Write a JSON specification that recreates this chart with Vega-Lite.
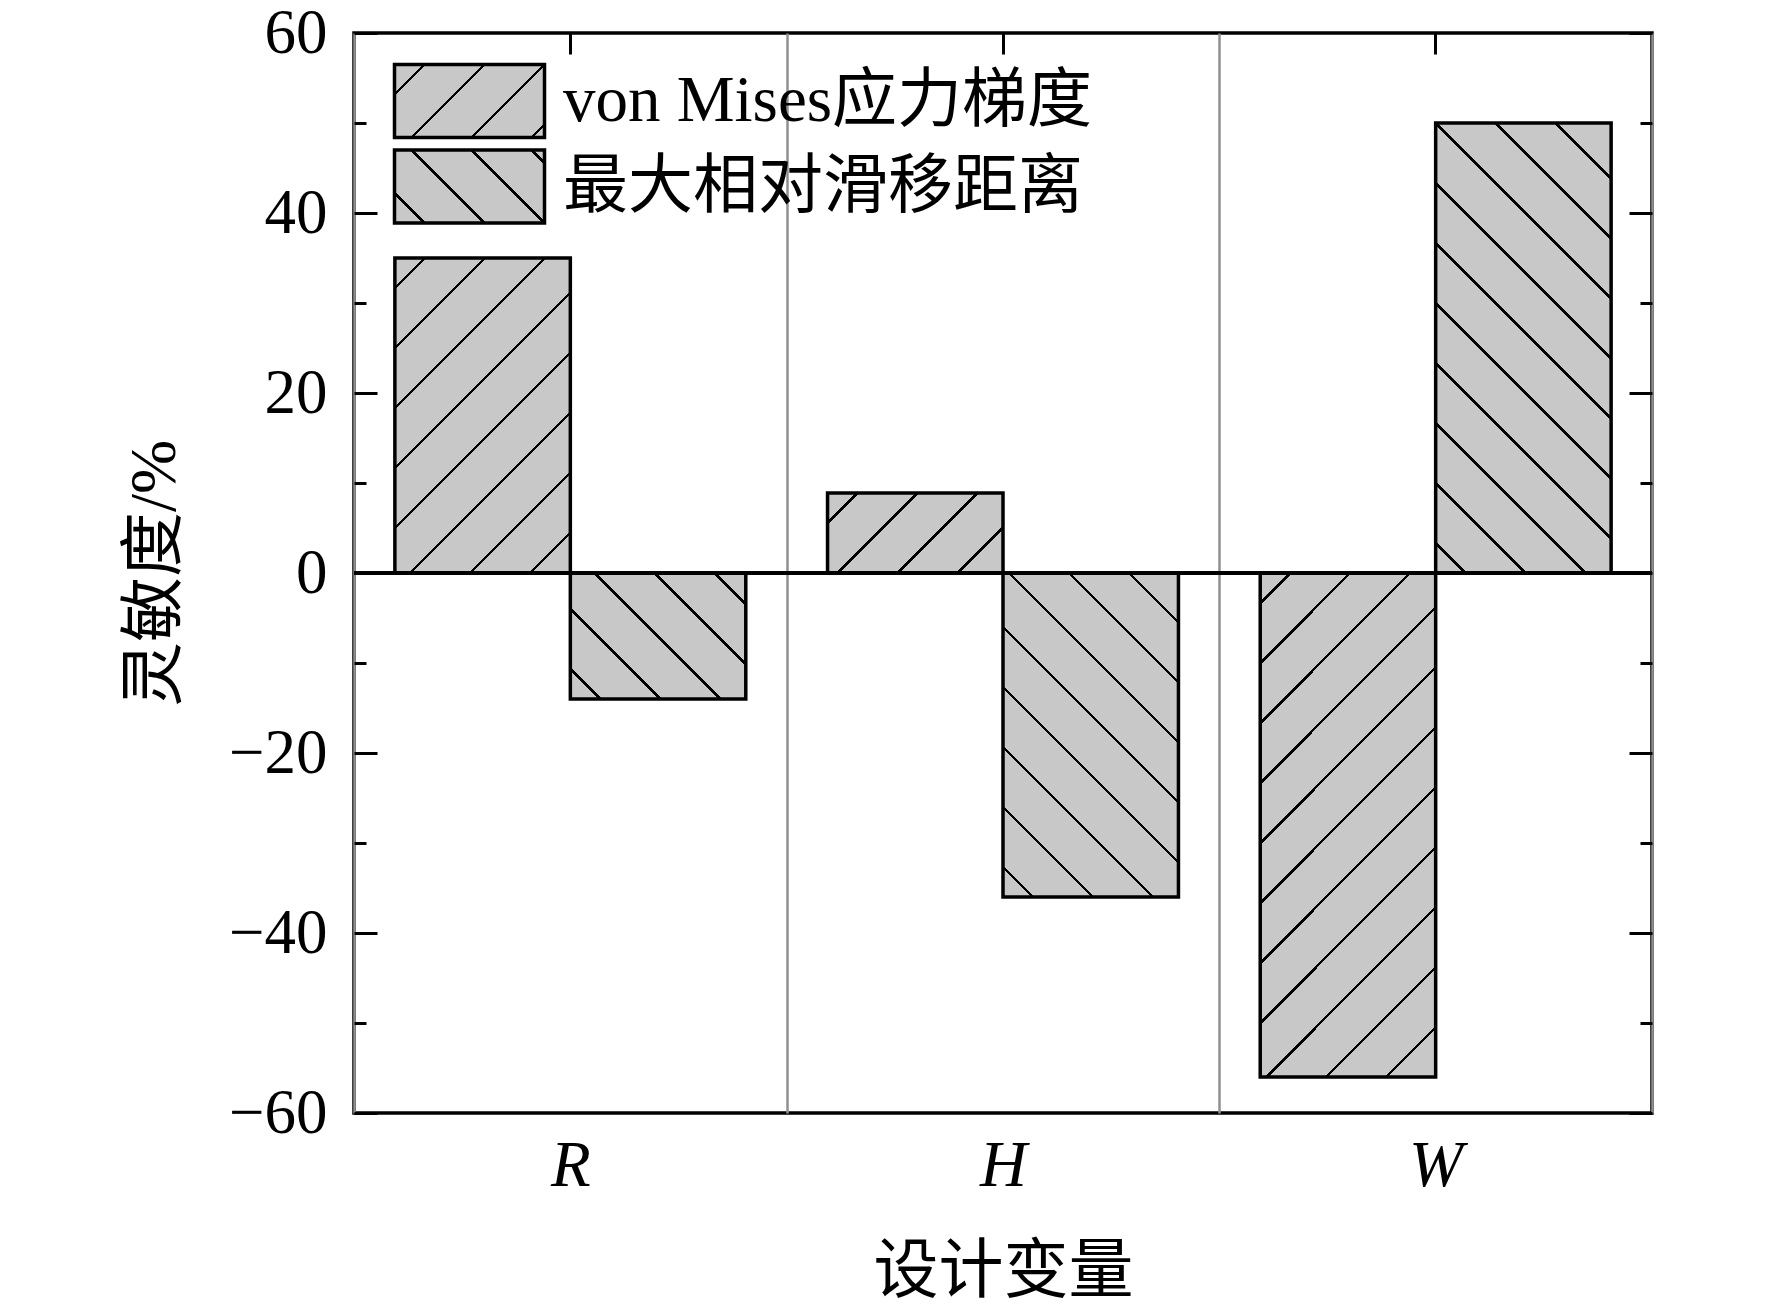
{
"$schema": "https://vega.github.io/schema/vega-lite/v6.json",
"width": 1298,
"height": 1080,
"autosize": {"type": "none"},
"padding": {"left": 354, "top": 33, "right": 120, "bottom": 197},
"background": "white",
"config": {"view": {"stroke": "black", "strokeWidth": 3.5}},
"data": {"values": [
 {"var": "R", "series": "von Mises应力梯度", "value": 35},
 {"var": "R", "series": "最大相对滑移距离", "value": -14},
 {"var": "H", "series": "von Mises应力梯度", "value": 8.9},
 {"var": "H", "series": "最大相对滑移距离", "value": -36},
 {"var": "W", "series": "von Mises应力梯度", "value": -56},
 {"var": "W", "series": "最大相对滑移距离", "value": 50}
]},
"resolve": {"axis": {"x": "independent", "y": "independent"}},
"layer": [
 {
  "mark": {"type": "bar", "stroke": "black", "strokeWidth": 3.5},
  "encoding": {
   "x": {"field": "var", "type": "nominal", "sort": ["R", "H", "W"],
         "scale": {"paddingInner": 0, "paddingOuter": 0},
         "axis": {"orient": "bottom", "title": "设计变量", "labelAngle": 0, "ticks": false, "domain": false,
                  "grid": true, "gridColor": "#909090", "gridWidth": 2.5, "tickBand": "extent",
                  "labelFont": "Liberation Serif", "labelFontStyle": "italic", "labelFontSize": 65, "labelColor": "black", "labelPadding": 21,
                  "titleFont": "Liberation Serif, Noto Sans CJK SC", "titleFontSize": 65, "titleFontWeight": "normal", "titleColor": "black", "titlePadding": 42}},
   "xOffset": {"field": "series", "type": "nominal", "sort": ["von Mises应力梯度", "最大相对滑移距离"],
               "scale": {"paddingInner": 0, "paddingOuter": 0.233}},
   "y": {"field": "value", "type": "quantitative", "scale": {"domain": [-60, 60], "nice": false, "zero": false},
         "axis": {"orient": "left", "title": "灵敏度/%", "values": [-60, -50, -40, -30, -20, -10, 0, 10, 20, 30, 40, 50, 60],
                  "labelExpr": "datum.value % 20 === 0 ? datum.label : ''",
                  "tickSize": {"condition": {"test": "datum.value % 20 === 0", "value": -23}, "value": -12},
                  "tickWidth": 3, "tickColor": "black", "domain": false, "grid": false, "labelFlush": false, "labelOverlap": false,
                  "labelFont": "Liberation Serif", "labelFontSize": 63, "labelColor": "black", "labelPadding": 50,
                  "titleFont": "Liberation Serif, Noto Sans CJK SC", "titleFontSize": 65, "titleFontWeight": "normal", "titleColor": "black", "titlePadding": 40}},
   "fill": {"condition": [
     {"test": "datum.var === 'R' && datum.series === 'von Mises应力梯度'", "value": {"gradient": "linear", "x1": 0, "y1": 0, "x2": 0.94482, "y2": 1.69583, "stops": [{"offset":0.040286,"color":"#c8c8c8"},{"offset":0.040286,"color":"#000"},{"offset":0.045429,"color":"#000"},{"offset":0.045429,"color":"#c8c8c8"},{"offset":0.126,"color":"#c8c8c8"},{"offset":0.126,"color":"#000"},{"offset":0.131143,"color":"#000"},{"offset":0.131143,"color":"#c8c8c8"},{"offset":0.211714,"color":"#c8c8c8"},{"offset":0.211714,"color":"#000"},{"offset":0.216857,"color":"#000"},{"offset":0.216857,"color":"#c8c8c8"},{"offset":0.297429,"color":"#c8c8c8"},{"offset":0.297429,"color":"#000"},{"offset":0.302571,"color":"#000"},{"offset":0.302571,"color":"#c8c8c8"},{"offset":0.383143,"color":"#c8c8c8"},{"offset":0.383143,"color":"#000"},{"offset":0.388286,"color":"#000"},{"offset":0.388286,"color":"#c8c8c8"},{"offset":0.468857,"color":"#c8c8c8"},{"offset":0.468857,"color":"#000"},{"offset":0.474,"color":"#000"},{"offset":0.474,"color":"#c8c8c8"},{"offset":0.554571,"color":"#c8c8c8"},{"offset":0.554571,"color":"#000"},{"offset":0.559714,"color":"#000"},{"offset":0.559714,"color":"#c8c8c8"},{"offset":0.640286,"color":"#c8c8c8"},{"offset":0.640286,"color":"#000"},{"offset":0.645429,"color":"#000"},{"offset":0.645429,"color":"#c8c8c8"},{"offset":0.726,"color":"#c8c8c8"},{"offset":0.726,"color":"#000"},{"offset":0.731143,"color":"#000"},{"offset":0.731143,"color":"#c8c8c8"}]}},
     {"test": "datum.var === 'R'", "value": {"gradient": "linear", "x1": 0, "y1": 1, "x2": 2.63196, "y2": -0.88961, "stops": [{"offset":0.040286,"color":"#c8c8c8"},{"offset":0.040286,"color":"#000"},{"offset":0.045429,"color":"#000"},{"offset":0.045429,"color":"#c8c8c8"},{"offset":0.126,"color":"#c8c8c8"},{"offset":0.126,"color":"#000"},{"offset":0.131143,"color":"#000"},{"offset":0.131143,"color":"#c8c8c8"},{"offset":0.211714,"color":"#c8c8c8"},{"offset":0.211714,"color":"#000"},{"offset":0.216857,"color":"#000"},{"offset":0.216857,"color":"#c8c8c8"},{"offset":0.297429,"color":"#c8c8c8"},{"offset":0.297429,"color":"#000"},{"offset":0.302571,"color":"#000"},{"offset":0.302571,"color":"#c8c8c8"},{"offset":0.383143,"color":"#c8c8c8"},{"offset":0.383143,"color":"#000"},{"offset":0.388286,"color":"#000"},{"offset":0.388286,"color":"#c8c8c8"},{"offset":0.468857,"color":"#c8c8c8"},{"offset":0.468857,"color":"#000"},{"offset":0.474,"color":"#000"},{"offset":0.474,"color":"#c8c8c8"}]}},
     {"test": "datum.var === 'H' && datum.series === 'von Mises应力梯度'", "value": {"gradient": "linear", "x1": 0, "y1": 0, "x2": 3.30098, "y2": 1.5066, "stops": [{"offset":0.040286,"color":"#c8c8c8"},{"offset":0.040286,"color":"#000"},{"offset":0.045429,"color":"#000"},{"offset":0.045429,"color":"#c8c8c8"},{"offset":0.126,"color":"#c8c8c8"},{"offset":0.126,"color":"#000"},{"offset":0.131143,"color":"#000"},{"offset":0.131143,"color":"#c8c8c8"},{"offset":0.211714,"color":"#c8c8c8"},{"offset":0.211714,"color":"#000"},{"offset":0.216857,"color":"#000"},{"offset":0.216857,"color":"#c8c8c8"},{"offset":0.297429,"color":"#c8c8c8"},{"offset":0.297429,"color":"#000"},{"offset":0.302571,"color":"#000"},{"offset":0.302571,"color":"#c8c8c8"},{"offset":0.383143,"color":"#c8c8c8"},{"offset":0.383143,"color":"#000"},{"offset":0.388286,"color":"#000"},{"offset":0.388286,"color":"#c8c8c8"}]}},
     {"test": "datum.var === 'H'", "value": {"gradient": "linear", "x1": 0, "y1": 1, "x2": 0.904803, "y2": -0.670405, "stops": [{"offset":0.040286,"color":"#c8c8c8"},{"offset":0.040286,"color":"#000"},{"offset":0.045429,"color":"#000"},{"offset":0.045429,"color":"#c8c8c8"},{"offset":0.126,"color":"#c8c8c8"},{"offset":0.126,"color":"#000"},{"offset":0.131143,"color":"#000"},{"offset":0.131143,"color":"#c8c8c8"},{"offset":0.211714,"color":"#c8c8c8"},{"offset":0.211714,"color":"#000"},{"offset":0.216857,"color":"#000"},{"offset":0.216857,"color":"#c8c8c8"},{"offset":0.297429,"color":"#c8c8c8"},{"offset":0.297429,"color":"#000"},{"offset":0.302571,"color":"#000"},{"offset":0.302571,"color":"#c8c8c8"},{"offset":0.383143,"color":"#c8c8c8"},{"offset":0.383143,"color":"#000"},{"offset":0.388286,"color":"#000"},{"offset":0.388286,"color":"#c8c8c8"},{"offset":0.468857,"color":"#c8c8c8"},{"offset":0.468857,"color":"#000"},{"offset":0.474,"color":"#000"},{"offset":0.474,"color":"#c8c8c8"},{"offset":0.554571,"color":"#c8c8c8"},{"offset":0.554571,"color":"#000"},{"offset":0.559714,"color":"#000"},{"offset":0.559714,"color":"#c8c8c8"},{"offset":0.640286,"color":"#c8c8c8"},{"offset":0.640286,"color":"#000"},{"offset":0.645429,"color":"#000"},{"offset":0.645429,"color":"#c8c8c8"},{"offset":0.726,"color":"#c8c8c8"},{"offset":0.726,"color":"#000"},{"offset":0.731143,"color":"#000"},{"offset":0.731143,"color":"#c8c8c8"}]}},
     {"test": "datum.var === 'W' && datum.series === 'von Mises应力梯度'", "value": {"gradient": "linear", "x1": 0, "y1": 0, "x2": 0.431332, "y2": 1.238696, "stops": [{"offset":0.040286,"color":"#c8c8c8"},{"offset":0.040286,"color":"#000"},{"offset":0.045429,"color":"#000"},{"offset":0.045429,"color":"#c8c8c8"},{"offset":0.126,"color":"#c8c8c8"},{"offset":0.126,"color":"#000"},{"offset":0.131143,"color":"#000"},{"offset":0.131143,"color":"#c8c8c8"},{"offset":0.211714,"color":"#c8c8c8"},{"offset":0.211714,"color":"#000"},{"offset":0.216857,"color":"#000"},{"offset":0.216857,"color":"#c8c8c8"},{"offset":0.297429,"color":"#c8c8c8"},{"offset":0.297429,"color":"#000"},{"offset":0.302571,"color":"#000"},{"offset":0.302571,"color":"#c8c8c8"},{"offset":0.383143,"color":"#c8c8c8"},{"offset":0.383143,"color":"#000"},{"offset":0.388286,"color":"#000"},{"offset":0.388286,"color":"#c8c8c8"},{"offset":0.468857,"color":"#c8c8c8"},{"offset":0.468857,"color":"#000"},{"offset":0.474,"color":"#000"},{"offset":0.474,"color":"#c8c8c8"},{"offset":0.554571,"color":"#c8c8c8"},{"offset":0.554571,"color":"#000"},{"offset":0.559714,"color":"#000"},{"offset":0.559714,"color":"#c8c8c8"},{"offset":0.640286,"color":"#c8c8c8"},{"offset":0.640286,"color":"#000"},{"offset":0.645429,"color":"#000"},{"offset":0.645429,"color":"#c8c8c8"},{"offset":0.726,"color":"#c8c8c8"},{"offset":0.726,"color":"#000"},{"offset":0.731143,"color":"#000"},{"offset":0.731143,"color":"#c8c8c8"},{"offset":0.811714,"color":"#c8c8c8"},{"offset":0.811714,"color":"#000"},{"offset":0.816857,"color":"#000"},{"offset":0.816857,"color":"#c8c8c8"},{"offset":0.897429,"color":"#c8c8c8"},{"offset":0.897429,"color":"#000"},{"offset":0.902571,"color":"#000"},{"offset":0.902571,"color":"#c8c8c8"},{"offset":0.983143,"color":"#c8c8c8"},{"offset":0.983143,"color":"#000"},{"offset":0.988286,"color":"#000"},{"offset":0.988286,"color":"#c8c8c8"}]}},
     {"test": "datum.var === 'W'", "value": {"gradient": "linear", "x1": 0, "y1": 1, "x2": 0.526575, "y2": -0.350193, "stops": [{"offset":0.040286,"color":"#c8c8c8"},{"offset":0.040286,"color":"#000"},{"offset":0.045429,"color":"#000"},{"offset":0.045429,"color":"#c8c8c8"},{"offset":0.126,"color":"#c8c8c8"},{"offset":0.126,"color":"#000"},{"offset":0.131143,"color":"#000"},{"offset":0.131143,"color":"#c8c8c8"},{"offset":0.211714,"color":"#c8c8c8"},{"offset":0.211714,"color":"#000"},{"offset":0.216857,"color":"#000"},{"offset":0.216857,"color":"#c8c8c8"},{"offset":0.297429,"color":"#c8c8c8"},{"offset":0.297429,"color":"#000"},{"offset":0.302571,"color":"#000"},{"offset":0.302571,"color":"#c8c8c8"},{"offset":0.383143,"color":"#c8c8c8"},{"offset":0.383143,"color":"#000"},{"offset":0.388286,"color":"#000"},{"offset":0.388286,"color":"#c8c8c8"},{"offset":0.468857,"color":"#c8c8c8"},{"offset":0.468857,"color":"#000"},{"offset":0.474,"color":"#000"},{"offset":0.474,"color":"#c8c8c8"},{"offset":0.554571,"color":"#c8c8c8"},{"offset":0.554571,"color":"#000"},{"offset":0.559714,"color":"#000"},{"offset":0.559714,"color":"#c8c8c8"},{"offset":0.640286,"color":"#c8c8c8"},{"offset":0.640286,"color":"#000"},{"offset":0.645429,"color":"#000"},{"offset":0.645429,"color":"#c8c8c8"},{"offset":0.726,"color":"#c8c8c8"},{"offset":0.726,"color":"#000"},{"offset":0.731143,"color":"#000"},{"offset":0.731143,"color":"#c8c8c8"},{"offset":0.811714,"color":"#c8c8c8"},{"offset":0.811714,"color":"#000"},{"offset":0.816857,"color":"#000"},{"offset":0.816857,"color":"#c8c8c8"},{"offset":0.897429,"color":"#c8c8c8"},{"offset":0.897429,"color":"#000"},{"offset":0.902571,"color":"#000"},{"offset":0.902571,"color":"#c8c8c8"}]}}
    ],
    "value": "#c8c8c8"}
  }
 },
 {
  "mark": {"type": "bar", "opacity": 0},
  "encoding": {
   "x": {"field": "var", "type": "nominal", "sort": ["R", "H", "W"],
         "axis": {"orient": "top", "title": null, "labels": false, "ticks": true, "tickSize": -21, "tickWidth": 3, "tickColor": "black", "domain": false, "grid": false}},
   "y": {"field": "value", "type": "quantitative",
         "axis": {"orient": "right", "title": null, "labels": false, "values": [-60, -50, -40, -30, -20, -10, 0, 10, 20, 30, 40, 50, 60],
                  "tickSize": {"condition": {"test": "datum.value % 20 === 0", "value": -23}, "value": -12},
                  "tickWidth": 3, "tickColor": "black", "domain": false, "grid": false}},
   "fill": {"field": "series", "type": "nominal", "sort": ["von Mises应力梯度", "最大相对滑移距离"],
            "scale": {"range": [
              {"expr": "{gradient:'linear',x1:0,y1:0,x2:3.77304,y2:1.83621,stops:[{offset:0.040286,color:'#c8c8c8'},{offset:0.040286,color:'#000'},{offset:0.045429,color:'#000'},{offset:0.045429,color:'#c8c8c8'},{offset:0.126,color:'#c8c8c8'},{offset:0.126,color:'#000'},{offset:0.131143,color:'#000'},{offset:0.131143,color:'#c8c8c8'},{offset:0.211714,color:'#c8c8c8'},{offset:0.211714,color:'#000'},{offset:0.216857,color:'#000'},{offset:0.216857,color:'#c8c8c8'},{offset:0.297429,color:'#c8c8c8'},{offset:0.297429,color:'#000'},{offset:0.302571,color:'#000'},{offset:0.302571,color:'#c8c8c8'},{offset:0.383143,color:'#c8c8c8'},{offset:0.383143,color:'#000'},{offset:0.388286,color:'#000'},{offset:0.388286,color:'#c8c8c8'}]}"},
              {"expr": "{gradient:'linear',x1:0,y1:1,x2:3.77304,y2:-0.83621,stops:[{offset:0.040286,color:'#c8c8c8'},{offset:0.040286,color:'#000'},{offset:0.045429,color:'#000'},{offset:0.045429,color:'#c8c8c8'},{offset:0.126,color:'#c8c8c8'},{offset:0.126,color:'#000'},{offset:0.131143,color:'#000'},{offset:0.131143,color:'#c8c8c8'},{offset:0.211714,color:'#c8c8c8'},{offset:0.211714,color:'#000'},{offset:0.216857,color:'#000'},{offset:0.216857,color:'#c8c8c8'},{offset:0.297429,color:'#c8c8c8'},{offset:0.297429,color:'#000'},{offset:0.302571,color:'#000'},{offset:0.302571,color:'#c8c8c8'},{offset:0.383143,color:'#c8c8c8'},{offset:0.383143,color:'#000'},{offset:0.388286,color:'#000'},{offset:0.388286,color:'#c8c8c8'}]}"}
            ]},
            "legend": {"orient": "none", "legendX": 77, "legendY": 29.5, "title": null, "padding": 0,
                       "symbolType": "M-2.0548,-1H2.0548V1H-2.0548Z", "symbolSize": 5329, "symbolStrokeWidth": 3.5, "symbolStrokeColor": "black", "symbolOpacity": 1,
                       "labelFont": "Liberation Serif, Noto Sans CJK SC", "labelFontSize": 65, "labelColor": "black", "labelOffset": 55, "labelLimit": 2000,
                       "rowPadding": -1.5}}
  }
 },
 {
  "mark": {"type": "rule", "color": "black", "strokeWidth": 3},
  "encoding": {"y": {"datum": 0, "type": "quantitative", "axis": null}}
 }
]
}
